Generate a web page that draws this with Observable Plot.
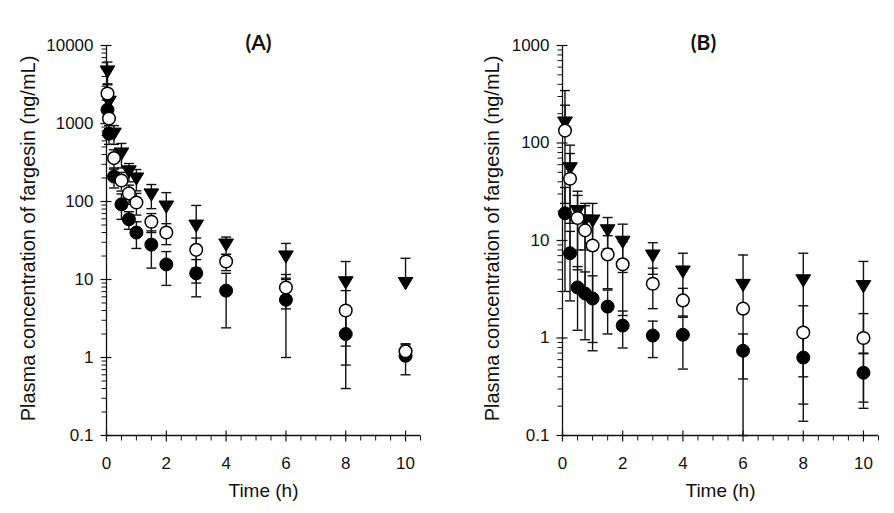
<!DOCTYPE html>
<html><head><meta charset="utf-8">
<script src="https://cdn.jsdelivr.net/npm/d3@7"></script>
<script src="https://cdn.jsdelivr.net/npm/@observablehq/plot@0.6"></script>
<style>
body{margin:0;background:#fff;}
#wrap{display:flex;width:894px;height:513px;overflow:hidden;}
</style>
</head><body><div id="wrap"></div>
<script>
// ---------- data ----------
const timesA = [0.033, 0.083, 0.25, 0.5, 0.75, 1, 1.5, 2, 3, 4, 6, 8, 10];
const aFilledMean = [1500, 740, 209, 92, 59, 40, 28, 15.6, 12, 7.2, 5.5, 2.0, 1.05];
const aFilledSD   = [500, 200, 60, 33, 15, 15, 14, 7.2, 6, 4.8, 4.5, 1.6, 0.45];
const aOpenMean   = [2425, 1160, 360, 186, 127, 97, 55, 40, 24, 17, 7.9, 4.0, 1.2];
const aOpenSD     = [800, 300, 100, 50, 35, 30, 15, 12, 10, 4, 3.7, 3.2, 0.25];
const aTriMean    = [4640, 1900, 740, 412, 243, 197, 123, 86, 49, 28, 19.7, 9.2, 9.0];
const aTriSD      = [1500, 600, 200, 143, 64, 60, 42, 44, 40, 7, 9.3, 7.8, 9.7];

const timesB = [0.083, 0.25, 0.5, 0.75, 1, 1.5, 2, 3, 4, 6, 8, 10];
const bFilledMean = [19, 7.4, 3.3, 2.86, 2.54, 2.1, 1.34, 1.06, 1.08, 0.74, 0.63, 0.44];
const bFilledSD   = [16, 5, 2.1, 1.9, 1.8, 1.0, 0.55, 0.43, 0.6, 0.36, 0.42, 0.25];
const bOpenMean   = [134, 43, 17, 12.7, 8.9, 7.2, 5.7, 3.6, 2.43, 2.0, 1.14, 1.0];
const bOpenSD     = [110, 35, 12, 10, 8, 4, 4, 1.6, 0.8, 1.9, 1.0, 0.78];
const bTriMean    = [162, 55, 20, 16, 16, 12.7, 9.7, 7.0, 4.8, 3.5, 3.9, 3.4];
const bTriSD      = [183, 40, 12, 8, 8, 4.5, 5, 2.5, 2.6, 3.6, 3.5, 2.7];

const yTicksA = [0.1, 1, 10, 100, 1000, 10000];
const yTicksB = [0.1, 1, 10, 100, 1000];
const xTicks = [0, 2, 4, 6, 8, 10];
const xMinorTicks = [0.5, 1, 1.5, 2.5, 3, 3.5, 4.5, 5, 5.5, 6.5, 7, 7.5, 8.5, 9, 9.5, 10.5];
const yLabel = "Plasma concentration of fargesin (ng/mL)";
const xLabel = "Time (h)";

// ---------- helpers ----------
const hLine = (a, b) => ({draw(ctx) { ctx.moveTo(a, 0); ctx.lineTo(b, 0); }});
const vLine = (a, b) => ({draw(ctx) { ctx.moveTo(0, a); ctx.lineTo(0, b); }});
const downTri = {draw(ctx, size) {
  const r = Math.sqrt(size / Math.PI);
  ctx.moveTo(-r * 1.05, -r * 0.8); ctx.lineTo(r * 1.05, -r * 0.8); ctx.lineTo(0, r * 0.95); ctx.closePath();
}};
function rows(times, mean, sd, kind) {
  return times.map((t, i) => {
    const lo = mean[i] - sd[i];
    return {t, m: mean[i], hi: mean[i] + sd[i], lo: lo > 0 ? lo : null, kind};
  });
}
function minorLog(lo, hi) {
  const out = [];
  for (let e = Math.log10(lo); e < Math.log10(hi); e++)
    for (let k = 2; k <= 9; k++) out.push(k * Math.pow(10, e));
  return out;
}

function panel({title, titleDx, series, yDomain, yTicks, marginLeft, marginRight, yLabelDx}) {
  const all = series.flat();
  const width = 447;
  const filled = series[0], open = series[1], tri = series[2];
  return Plot.plot({
    width, height: 513,
    marginLeft, marginRight, marginTop: 45, marginBottom: 78,
    x: {domain: [0, 10.5], axis: null},
    y: {type: "log", domain: yDomain, axis: null},
    style: {fontFamily: "'Liberation Sans', Arial, sans-serif", fontSize: "16px", color: "#111", background: "white", overflow: "visible"},
    marks: [
      // axes lines
      Plot.ruleX([0], {stroke: "#111", strokeWidth: 1.3}),
      Plot.ruleY([yDomain[0]], {stroke: "#111", strokeWidth: 1.3}),
      // y ticks
      Plot.dot(yTicks, {y: d => d, frameAnchor: "left", symbol: hLine(-6, 5), stroke: "#111", strokeWidth: 1.2, fill: "none", r: 3}),
      Plot.dot(minorLog(yDomain[0], yDomain[1]), {y: d => d, frameAnchor: "left", symbol: hLine(-5, 0), stroke: "#111", strokeWidth: 1, fill: "none", r: 3}),
      Plot.text(yTicks, {y: d => d, text: d => String(d), frameAnchor: "left", textAnchor: "end", dx: -13, fontSize: 17}),
      // x ticks
      Plot.dot(xTicks, {x: d => d, frameAnchor: "bottom", symbol: vLine(-5, 6), stroke: "#111", strokeWidth: 1.2, fill: "none", r: 3}),
      Plot.dot(xMinorTicks, {x: d => d, frameAnchor: "bottom", symbol: vLine(0, 5), stroke: "#111", strokeWidth: 1, fill: "none", r: 3}),
      Plot.text(xTicks, {x: d => d, text: d => String(d), frameAnchor: "bottom", lineAnchor: "middle", dy: 28, fontSize: 17}),
      // labels
      Plot.text([xLabel], {text: d => d, frameAnchor: "bottom", lineAnchor: "middle", dy: 55, fontSize: 19}),
      Plot.text([yLabel], {text: d => d, frameAnchor: "left", rotate: -90, lineAnchor: "middle", textAnchor: "middle", dx: yLabelDx, dy: -2, fontSize: 20}),
      Plot.text([title], {text: d => d, frameAnchor: "top", lineAnchor: "middle", dx: titleDx, dy: -2, fontSize: 21, fontWeight: "bold", fontFamily: "Lato, 'Open Sans', sans-serif"}),
      // error bars
      Plot.ruleX(all, {x: "t", y1: d => d.lo ?? d.m, y2: "hi", stroke: "#111", strokeWidth: 1.4}),
      Plot.dot(all, {x: "t", y: "hi", symbol: hLine(-5, 5), stroke: "#111", strokeWidth: 1.4, fill: "none", r: 3}),
      Plot.dot(all.filter(d => d.lo != null), {x: "t", y: "lo", symbol: hLine(-5, 5), stroke: "#111", strokeWidth: 1.4, fill: "none", r: 3}),
      // symbols
      Plot.dot(filled, {x: "t", y: "m", r: 6.5, fill: "#000", stroke: "#000", strokeWidth: 1}),
      Plot.dot(tri, {x: "t", y: "m", r: 7, symbol: downTri, fill: "#000", stroke: "#000", strokeWidth: 1}),
      Plot.dot(open, {x: "t", y: "m", r: 6.3, fill: "#fff", stroke: "#000", strokeWidth: 1.5})
    ]
  });
}

const wrap = document.getElementById("wrap");
wrap.append(panel({
  title: "(A)", titleDx: -5,
  series: [rows(timesA, aFilledMean, aFilledSD, "filled"), rows(timesA, aOpenMean, aOpenSD, "open"), rows(timesA, aTriMean, aTriSD, "tri")],
  yDomain: [0.1, 10000], yTicks: yTicksA, marginLeft: 106, marginRight: 27, yLabelDx: -78
}));
wrap.append(panel({
  title: "(B)", titleDx: -17,
  series: [rows(timesB, bFilledMean, bFilledSD, "filled"), rows(timesB, bOpenMean, bOpenSD, "open"), rows(timesB, bTriMean, bTriSD, "tri")],
  yDomain: [0.1, 1000], yTicks: yTicksB, marginLeft: 115, marginRight: 16, yLabelDx: -70
}));
</script>
</body></html>
